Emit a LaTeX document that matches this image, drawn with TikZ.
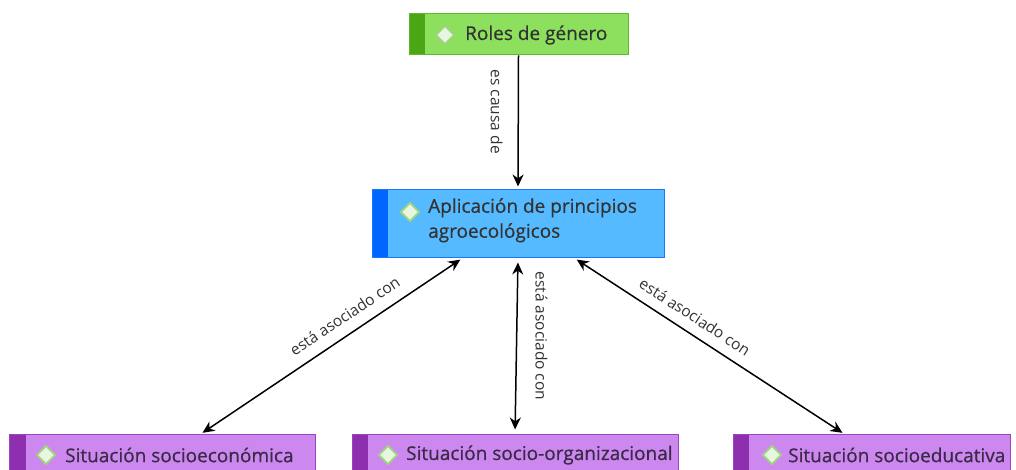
\documentclass[tikz,border=0pt]{standalone}
\usepackage{fontspec}
\setmainfont{Open Sans}
\newfontfamily\boxfont{Open Sans}[FakeBold=0.6]
\usetikzlibrary{arrows.meta,shapes.geometric}
\definecolor{gfill}{HTML}{8CE05E}
\definecolor{gstripe}{HTML}{4CA614}
\definecolor{gborder}{HTML}{5DB82A}
\definecolor{bfill}{HTML}{55BAFF}
\definecolor{bstripe}{HTML}{0066FF}
\definecolor{bborder}{HTML}{1A75FF}
\definecolor{pfill}{HTML}{CC88EE}
\definecolor{pstripe}{HTML}{8E2FB0}
\definecolor{pborder}{HTML}{9C44C0}
\definecolor{dfill}{HTML}{E8F5E0}
\definecolor{dborder}{HTML}{9ED47E}
\definecolor{txt}{HTML}{333333}
\definecolor{ptxt}{HTML}{3A2A48}
\tikzset{
  box/.style n args={3}{draw=#3, fill=#1, line width=1bp, rectangle, inner sep=0pt,
    path picture={\fill[#2] (path picture bounding box.south west) rectangle ([xshift=16bp]path picture bounding box.north west);}},
  gem/.style={diamond, draw=dborder, fill=dfill, line width=1.8bp, minimum width=19bp, minimum height=19bp, inner sep=0pt, aspect=1},
  boxtext/.style={font=\boxfont\fontsize{19bp}{25bp}\selectfont, text=txt, anchor=west, inner sep=0pt, align=left},
  lbl/.style={font=\fontsize{15.5bp}{18bp}\selectfont, text=txt, inner sep=3bp},
  conn/.style={line width=1.5bp, draw=black},
  tip/.style={-{Stealth[length=12bp,width=11bp]}},
  tips/.style={{Stealth[length=12bp,width=11bp]}-{Stealth[length=12bp,width=11bp]}}
}
\begin{document}
\begin{tikzpicture}[x=1bp,y=-1bp]
\useasboundingbox (0,0) rectangle (1016,470);
\begin{scope}
\clip (0,0) rectangle (1016,470);
% boxes
\node[box={gfill}{gstripe}{gborder}, minimum width=219bp, minimum height=41bp] (roles) at (518.5,34.5) {};
\node[box={bfill}{bstripe}{bborder}, minimum width=292bp, minimum height=68bp] (app) at (518,224) {};
\node[box={pfill}{pstripe}{pborder}, minimum width=305bp, minimum height=50bp] (se) at (162.5,460) {};
\node[box={pfill}{pstripe}{pborder}, minimum width=326bp, minimum height=50bp] (so) at (515,460) {};
\node[box={pfill}{pstripe}{pborder}, minimum width=277bp, minimum height=50bp] (sd) at (871.5,460) {};
% icons and texts
\node[gem] (g1) at (445,35) {};
\node[boxtext] (t1) at (465,35) {Roles de género};
\node[gem] (g2) at (410,212) {};
\node[boxtext, anchor=north west] (t2) at (428,198) {Aplicación de principios\\agroecológicos};
\node[gem] (g3) at (46,455) {};
\node[boxtext, text=ptxt] (t3) at (65,455) {Situación socioeconómica};
\node[gem] (g4) at (388,455) {};
\node[boxtext, text=ptxt] (t4) at (406,455) {Situación socio-organizacional};
\node[gem] (g5) at (772,455) {};
\node[boxtext, text=ptxt] (t5) at (788,455) {Situación socioeducativa};
\end{scope}
% connectors
\draw[conn, tip, shorten >=3bp] (roles.south) -- node[lbl, pos=0.42, xshift=-12bp, rotate=-90, anchor=north] {es causa de} (app.north);
\draw[conn, tips, shorten <=4bp, shorten >=5bp] (app.south) -- node[lbl, pos=0.44, xshift=15bp, rotate=-90, anchor=south] {está asociado con} (so.north);
\draw[conn, tips, shorten <=2bp, shorten >=3bp] ([xshift=-56bp]app.south) -- node[lbl, pos=0.41, sloped, above=8bp] {está asociado con} ([xshift=37.5bp]se.north);
\draw[conn, tips, shorten <=2bp, shorten >=3bp] ([xshift=57bp]app.south) -- node[lbl, pos=0.41, sloped, above=7bp] {está asociado con} ([xshift=-26.5bp]sd.north);
\end{tikzpicture}
\end{document}
